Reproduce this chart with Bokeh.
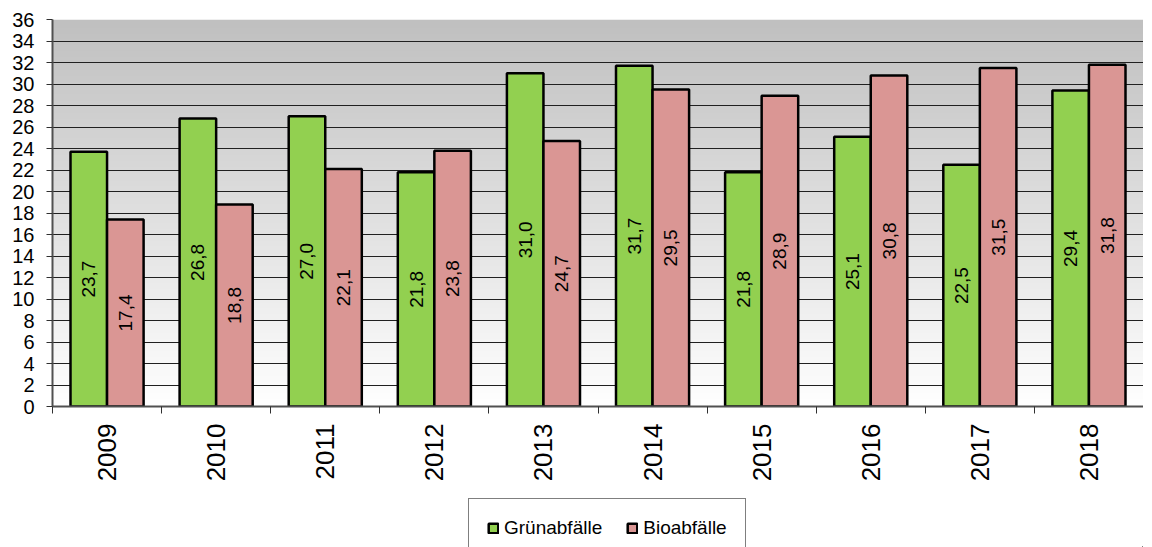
import numpy as np
from bokeh.plotting import figure
from bokeh.layouts import column
from bokeh.models import ColumnDataSource, FixedTicker, Range1d, Legend, LegendItem
from bokeh.core.properties import value
from bokeh.embed import file_html
from bokeh.resources import INLINE

years = ["2009", "2010", "2011", "2012", "2013", "2014", "2015", "2016", "2017", "2018"]
gruen = [23.7, 26.8, 27.0, 21.8, 31.0, 31.7, 21.8, 25.1, 22.5, 29.4]
bio = [17.4, 18.8, 22.1, 23.8, 24.7, 29.5, 28.9, 30.8, 31.5, 31.8]
series_names = ["Grünabfälle", "Bioabfälle"]
y_ticks = list(range(0, 37, 2))

FONT = "Liberation Sans"
GREEN = "#92D050"
PINK = "#DA9694"
BW = 0.335

idx = np.arange(len(years))

def fmt(v):
    return f"{v:.1f}".replace(".", ",")

src_g = ColumnDataSource(dict(x=idx - BW / 2, top=gruen, ym=[v / 2 for v in gruen], lab=[fmt(v) for v in gruen]))
src_b = ColumnDataSource(dict(x=idx + BW / 2, top=bio, ym=[v / 2 for v in bio], lab=[fmt(v) for v in bio]))

p = figure(width=1143, height=490, output_backend="svg", toolbar_location=None,
           x_range=Range1d(-0.5, len(years) - 0.5), y_range=Range1d(0, 36),
           min_border_left=52, min_border_top=19, min_border_right=0, min_border_bottom=84)
p.outline_line_color = None
p.background_fill_color = "white"
p.border_fill_color = "white"

# gradient background (decoration)
N = 200
g = np.linspace(255, 192, N).astype(np.uint32)
img = np.empty((N, 1), dtype=np.uint32)
view = img.view(dtype=np.uint8).reshape((N, 1, 4))
view[:, 0, 0] = g
view[:, 0, 1] = g
view[:, 0, 2] = g
view[:, 0, 3] = 255
p.image_rgba(image=[img], x=-0.5, y=0, dw=len(years), dh=36, level="image")

# grid
p.xgrid.visible = False
p.ygrid.ticker = FixedTicker(ticks=y_ticks[1:-1])
p.ygrid.grid_line_color = "#202020"
p.ygrid.grid_line_width = 1
p.ygrid.level = "image"

p.vbar(x="x", top="top", width=BW, bottom=0, source=src_g, fill_color=GREEN, line_color="black", line_width=2.5)
p.vbar(x="x", top="top", width=BW, bottom=0, source=src_b, fill_color=PINK, line_color="black", line_width=2.5)

for s in (src_g, src_b):
    p.text(x="x", y="ym", text="lab", source=s, angle=np.pi / 2, text_align="center", text_baseline="middle",
           text_font=value(FONT), text_font_size="19px", text_color="black")

# y axis
p.yaxis.ticker = FixedTicker(ticks=y_ticks)
p.yaxis.major_label_text_font = FONT
p.yaxis.major_label_text_font_size = "20px"
p.yaxis.major_label_text_color = "black"
p.yaxis.major_tick_out = 6
p.yaxis.major_tick_in = 0
p.yaxis.minor_tick_out = 0
p.yaxis.minor_tick_in = 0
p.yaxis.major_label_standoff = 12
p.yaxis.axis_line_color = "#505050"
p.yaxis.axis_line_width = 2
p.yaxis.major_tick_line_color = "#303030"

# x axis
bounds = [i + 0.5 for i in range(len(years) - 1)] + [-0.5, len(years) - 0.5]
p.xaxis.ticker = FixedTicker(ticks=list(idx), minor_ticks=bounds)
p.xaxis.major_label_overrides = {int(i): y for i, y in zip(idx, years)}
p.xaxis.major_label_orientation = np.pi / 2
p.xaxis.major_label_text_font = FONT
p.xaxis.major_label_text_font_size = "26px"
p.xaxis.major_label_text_color = "black"
p.xaxis.major_tick_out = 0
p.xaxis.major_tick_in = 0
p.xaxis.minor_tick_out = 7
p.xaxis.minor_tick_in = 0
p.xaxis.minor_tick_line_color = "#303030"
p.xaxis.major_label_standoff = 10
p.xaxis.axis_line_color = "#505050"
p.xaxis.axis_line_width = 2

# legend strip below the chart (its bars lie outside the strip's view)
q = figure(width=1143, height=57, output_backend="svg", toolbar_location=None,
           x_axis_type=None, y_axis_type=None, x_range=Range1d(-1001, -1000), y_range=Range1d(1000, 1001),
           min_border=0, min_border_left=0, min_border_right=0, min_border_top=0, min_border_bottom=0)
q.outline_line_color = None
q.xgrid.visible = False
q.ygrid.visible = False
lg = q.vbar(x="x", top="top", bottom=0, width=BW, source=src_g, fill_color=GREEN, line_color="black", line_width=2.5)
lb = q.vbar(x="x", top="top", bottom=0, width=BW, source=src_b, fill_color=PINK, line_color="black", line_width=2.5)
legend = Legend(items=[LegendItem(label=series_names[0], renderers=[lg], index=0),
                       LegendItem(label=series_names[1], renderers=[lb], index=0)],
                orientation="horizontal", location=(416, -11), margin=0, padding=18,
                spacing=24, label_standoff=5, glyph_width=12, glyph_height=12, label_height=18,
                label_text_font=FONT, label_text_font_size="19px", label_text_color="black",
                border_line_color="black", border_line_width=1, background_fill_color="white",
                background_fill_alpha=1)
q.add_layout(legend, "center")

layout = column(p, q, spacing=0)
open("out.html", "w").write(file_html(layout, INLINE))
